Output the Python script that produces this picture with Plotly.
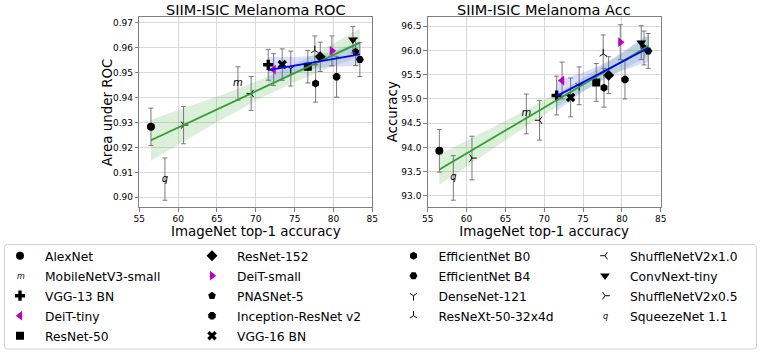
import numpy as np
import plotly.graph_objects as go

# values
models = ['AlexNet', 'MobileNetV3-small', 'VGG-13 BN', 'DeiT-tiny', 'ResNet-50',
          'ResNet-152', 'DeiT-small', 'PNASNet-5', 'Inception-ResNet v2', 'VGG-16 BN',
          'EfficientNet B0', 'EfficientNet B4', 'DenseNet-121', 'ResNeXt-50-32x4d',
          'ShuffleNetV2x1.0', 'ConvNext-tiny', 'ShuffleNetV2x0.5', 'SqueezeNet 1.1']
imagenet_acc = [56.5, 67.7, 71.6, 72.3, 76.7, 78.3, 79.8, 82.85, 80.4, 73.4,
                77.7, 83.4, 74.5, 77.6, 69.4, 82.5, 60.7, 58.3]
roc_mean = [0.9283, 0.9457, 0.9532, 0.9513, 0.9524, 0.9564, 0.9588, 0.9584, 0.9484, 0.9533,
            0.9457, 0.9553, 0.9517, 0.9590, 0.9417, 0.9633, 0.9290, 0.9073]
roc_err = [0.0075, 0.0067, 0.0062, 0.0064, 0.0065, 0.0059, 0.0060, 0.0055, 0.0082, 0.0063,
           0.0075, 0.0068, 0.0070, 0.0058, 0.0068, 0.0053, 0.0075, 0.0085]
acc_mean = [93.93, 94.69, 95.07, 95.38, 95.34, 95.49, 96.17, 96.05, 95.40, 95.03,
            95.23, 95.99, 95.27, 95.93, 94.56, 96.16, 93.78, 93.37]
acc_err = [0.44, 0.41, 0.40, 0.38, 0.39, 0.38, 0.36, 0.35, 0.40, 0.40,
           0.40, 0.36, 0.39, 0.39, 0.41, 0.35, 0.45, 0.46]

symbols = ['circle', 'm', 'cross', 'triangle-left', 'square',
           'diamond', 'triangle-right', 'pentagon', 'octagon', 'x',
           'hexagon', 'hexagon2', 'y-down', 'y-up',
           'y-left', 'triangle-down', 'y-right', 'q']
colors = ['black', 'black', 'black', '#bf00bf', 'black',
          'black', '#bf00bf', 'black', 'black', 'black',
          'black', 'black', 'black', 'black',
          'black', 'black', 'black', 'black']
legend_col = [1, 1, 1, 1, 1, 2, 2, 2, 2, 2, 3, 3, 3, 3, 4, 4, 4, 4]

W, H = 761, 352
FONT = 'DejaVu Sans'
modern_cut = 71  # second (blue) fit uses the newer models only

fig = go.Figure()


def add_fit(xs, ys, fill, xaxis, yaxis, t_val):
    xs = np.asarray(xs)
    ys = np.asarray(ys)
    slope, icpt = np.polyfit(xs, ys, 1)
    grid = np.linspace(xs.min(), xs.max(), 100)
    pred = slope * grid + icpt
    n = len(xs)
    resid = ys - (slope * xs + icpt)
    s = np.sqrt((resid ** 2).sum() / (n - 2))
    sxx = ((xs - xs.mean()) ** 2).sum()
    half = t_val * s * np.sqrt(1 / n + (grid - xs.mean()) ** 2 / sxx)
    fig.add_trace(go.Scatter(x=grid, y=pred + half, mode='lines', line=dict(width=0),
                             showlegend=False, hoverinfo='skip', xaxis=xaxis, yaxis=yaxis))
    fig.add_trace(go.Scatter(x=grid, y=pred - half, mode='lines', line=dict(width=0),
                             fill='tonexty', fillcolor=fill, showlegend=False,
                             hoverinfo='skip', xaxis=xaxis, yaxis=yaxis))
    return grid, pred


def add_points(means, errs, xaxis, yaxis, first):
    for i, name in enumerate(models):
        err = dict(type='data', array=[errs[i]], color='rgba(100,100,100,0.85)',
                   thickness=1, width=2.5)
        common = dict(x=[imagenet_acc[i]], y=[means[i]], error_y=err, name=name,
                      legendgroup=name, xaxis=xaxis, yaxis=yaxis)
        leg = 'legend' if legend_col[i] == 1 else 'legend%d' % legend_col[i]
        if symbols[i] in ('m', 'q'):
            fig.add_trace(go.Scatter(mode='text', text=[symbols[i]], showlegend=False,
                                     textfont=dict(family=FONT, size=10, color='black',
                                                   style='italic'),
                                     textposition='middle center', **common))
            if first:
                fig.add_trace(go.Scatter(x=[None], y=[None], mode='markers', name=name,
                                         legendgroup=name, legend=leg, showlegend=True,
                                         marker=dict(size=6, color='rgba(0,0,0,0)')))
        else:
            size = 8
            if symbols[i] in ('diamond', 'cross', 'x', 'triangle-left', 'triangle-right',
                              'triangle-down'):
                size = 8.5
            mk = dict(symbol=symbols[i], size=size, color=colors[i])
            if symbols[i].startswith('y-'):
                mk = dict(symbol=symbols[i], size=6, line=dict(color=colors[i], width=1))
            fig.add_trace(go.Scatter(mode='markers', marker=mk, showlegend=first,
                                     legend=leg, **common))


def add_lines(gx, gp, bx, bp, xaxis, yaxis):
    fig.add_trace(go.Scatter(x=gx, y=gp, mode='lines', line=dict(color='#2ca02c', width=1.8),
                             showlegend=False, hoverinfo='skip', xaxis=xaxis, yaxis=yaxis))
    fig.add_trace(go.Scatter(x=bx, y=bp, mode='lines', line=dict(color='#0000ff', width=1.8),
                             showlegend=False, hoverinfo='skip', xaxis=xaxis, yaxis=yaxis))


sel = [i for i, v in enumerate(imagenet_acc) if v >= modern_cut]
green_fill = 'rgba(44,160,44,0.17)'
blue_fill = 'rgba(30,50,255,0.16)'

# left panel: ROC
gx, gp = add_fit(imagenet_acc, roc_mean, green_fill, 'x', 'y', 2.12)
bx, bp = add_fit([imagenet_acc[i] for i in sel], [roc_mean[i] for i in sel],
                 blue_fill, 'x', 'y', 2.201)
add_points(roc_mean, roc_err, 'x', 'y', True)
add_lines(gx, gp, bx, bp, 'x', 'y')

# right panel: accuracy
gx, gp = add_fit(imagenet_acc, acc_mean, green_fill, 'x2', 'y2', 2.12)
bx, bp = add_fit([imagenet_acc[i] for i in sel], [acc_mean[i] for i in sel],
                 blue_fill, 'x2', 'y2', 2.201)
add_points(acc_mean, acc_err, 'x2', 'y2', False)
add_lines(gx, gp, bx, bp, 'x2', 'y2')

axis_style = dict(showline=True, mirror=True, linecolor='#7f7f7f', linewidth=1,
                  showgrid=True, gridcolor='#d9d9d9', gridwidth=1, zeroline=False,
                  ticks='outside', ticklen=3.5, tickcolor='#7f7f7f',
                  tickfont=dict(family=FONT, size=9, color='black'))
xdom1 = [139.3 / W, 372.3 / W]
xdom2 = [427.7 / W, 660.7 / W]
ydom = [1 - 207 / H, 1 - 17 / H]

title_font = dict(family=FONT, size=13.4, color='black')
fig.update_layout(
    width=W, height=H,
    margin=dict(l=0, r=0, t=0, b=0, autoexpand=False),
    paper_bgcolor='white', plot_bgcolor='white',
    font=dict(family=FONT, color='black'),
    xaxis=dict(domain=xdom1, range=[55, 85], dtick=5, tick0=55, anchor='y',
               title=dict(text='ImageNet top-1 accuracy', font=title_font, standoff=1),
               **axis_style),
    yaxis=dict(domain=ydom, range=[0.8961, 0.9724], dtick=0.01, tick0=0.9,
               tickformat='.2f', anchor='x', **axis_style),
    xaxis2=dict(domain=xdom2, range=[55, 85], dtick=5, tick0=55, anchor='y2',
                title=dict(text='ImageNet top-1 accuracy', font=title_font, standoff=1),
                **axis_style),
    yaxis2=dict(domain=ydom, range=[92.77, 96.69], dtick=0.5, tick0=93,
                tickformat='.1f', anchor='x2', **axis_style),
)

# panel titles and y labels
for dom, txt in ((xdom1, 'SIIM-ISIC Melanoma ROC'), (xdom2, 'SIIM-ISIC Melanoma Acc')):
    fig.add_annotation(x=(dom[0] + dom[1]) / 2, y=1 - 10 / H, xref='paper', yref='paper',
                       text=txt, showarrow=False, xanchor='center', yanchor='middle',
                       font=dict(family=FONT, size=14.5, color='black'))
for xpix, txt in ((108.3, 'Area under ROC'), (393.3, 'Accuracy')):
    fig.add_annotation(x=xpix / W, y=(ydom[0] + ydom[1]) / 2, xref='paper', yref='paper',
                       text=txt, showarrow=False, textangle=-90, xanchor='center',
                       yanchor='middle', font=title_font)

# one legend per column, framed by a single rounded box
leg_x = [-5 / W, 187 / W, 388.5 / W, 580 / W]
sym_off = 26
leg_top = 1 - 241.2 / H
for k in range(4):
    key = 'legend' if k == 0 else 'legend%d' % (k + 1)
    fig.update_layout({key: dict(x=leg_x[k], y=leg_top, xanchor='left', yanchor='top',
                                 orientation='v', bgcolor='rgba(0,0,0,0)', borderwidth=0,
                                 itemwidth=40, tracegroupgap=1,
                                 font=dict(family=FONT, size=12.3, color='black'))})

x0, x1, y0, y1, r = 4.5 / W, 756.5 / W, 1 - 349 / H, 1 - 244.5 / H, 3
rx, ry = r / W, r / H
path = (f'M {x0 + rx},{y1} L {x1 - rx},{y1} Q {x1},{y1} {x1},{y1 - ry} '
        f'L {x1},{y0 + ry} Q {x1},{y0} {x1 - rx},{y0} L {x0 + rx},{y0} '
        f'Q {x0},{y0} {x0},{y0 + ry} L {x0},{y1 - ry} Q {x0},{y1} {x0 + rx},{y1} Z')
fig.add_shape(type='path', path=path, xref='paper', yref='paper',
              line=dict(color='#d0d0d0', width=1), fillcolor='rgba(0,0,0,0)')

# glyphs for the two text markers inside the legend
fig.add_annotation(x=leg_x[0] + sym_off / W, y=1 - 276 / H, xref='paper', yref='paper',
                   text='<i>m</i>', showarrow=False, xanchor='center', yanchor='middle',
                   font=dict(family=FONT, size=8, color='black'))
fig.add_annotation(x=leg_x[3] + sym_off / W, y=1 - 316.3 / H, xref='paper', yref='paper',
                   text='<i>q</i>', showarrow=False, xanchor='center', yanchor='middle',
                   font=dict(family=FONT, size=8, color='black'))

fig.write_html("out.html", config={'displayModeBar': False},
               post_script="document.body.style.margin='0';")
